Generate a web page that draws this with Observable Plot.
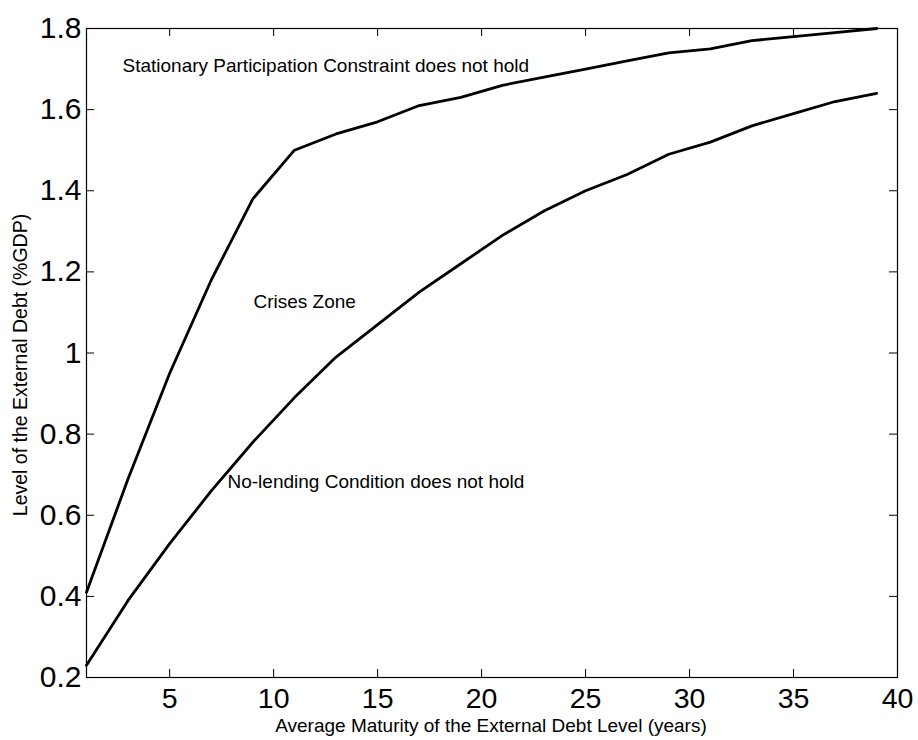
<!DOCTYPE html>
<html><head><meta charset="utf-8">
<script src="https://cdn.jsdelivr.net/npm/d3@7"></script>
<script src="https://cdn.jsdelivr.net/npm/@observablehq/plot@0.6"></script>
<style>body{margin:0;background:#fff;} svg{font-family:"Liberation Sans",Arial,sans-serif;}</style>
</head><body><div id="chart"></div>
<script>
const maturity = [1,3,5,7,9,11,13,15,17,19,21,23,25,27,29,31,33,35,37,39];
const participation = [0.41,0.69,0.95,1.18,1.38,1.50,1.54,1.57,1.61,1.63,1.66,1.68,1.70,1.72,1.74,1.75,1.77,1.78,1.79,1.80];
const noLending = [0.23,0.39,0.53,0.66,0.78,0.89,0.99,1.07,1.15,1.22,1.29,1.35,1.40,1.44,1.49,1.52,1.56,1.59,1.62,1.64];
const xTicks = [5,10,15,20,25,30,35,40];
const yTicks = [0.2,0.4,0.6,0.8,1,1.2,1.4,1.6,1.8];
const notes = [
  {x: 2.73, y: 1.709, text: "Stationary Participation Constraint does not hold"},
  {x: 9.03, y: 1.127, text: "Crises Zone"},
  {x: 7.78, y: 0.683, text: "No-lending Condition does not hold"}
];
const xLabel = "Average Maturity of the External Debt Level (years)";
const yLabel = "Level of the External Debt (%GDP)";

const upper = maturity.map((m,i)=>({x:m,y:participation[i]}));
const lower = maturity.map((m,i)=>({x:m,y:noLending[i]}));
const T = 8, H = 649, W = 811;

const chart = Plot.plot({
  width: 918, height: 740,
  marginLeft: 86, marginRight: 21, marginTop: 28, marginBottom: 63,
  style: {fontFamily: '"Liberation Sans", Arial, sans-serif', background: "#fff", color: "#000"},
  x: {domain: [1, 40], label: null},
  y: {domain: [0.2, 1.8], label: null},
  marks: [
    Plot.tickX(xTicks, {x: d=>d, stroke: "#000", strokeWidth: 1, insetTop: H - T}),
    Plot.tickX(xTicks, {x: d=>d, stroke: "#000", strokeWidth: 1, insetBottom: H - T}),
    Plot.tickY(yTicks, {y: d=>d, stroke: "#000", strokeWidth: 1, insetRight: W - T}),
    Plot.tickY(yTicks, {y: d=>d, stroke: "#000", strokeWidth: 1, insetLeft: W - T}),
    Plot.axisX(xTicks, {tickSize: 0, tickPadding: 10, fontSize: 28.5, label: null, tickFormat: d=>String(d)}),
    Plot.axisY(yTicks, {tickSize: 0, tickPadding: 5, fontSize: 30, label: null, tickFormat: d=>String(d)}),
    Plot.line(upper, {x: "x", y: "y", stroke: "#000", strokeWidth: 2.8}),
    Plot.line(lower, {x: "x", y: "y", stroke: "#000", strokeWidth: 2.8}),
    Plot.text(notes, {x: "x", y: "y", text: "text", textAnchor: "start", fontSize: 19, fill: "#000"}),
    Plot.frame({stroke: "#000", strokeWidth: 1.2})
  ]
});
const svg = d3.select(chart);
svg.append("text").attr("x", 491).attr("y", 732).attr("text-anchor","middle")
  .attr("font-size", 19).attr("fill","#000").text(xLabel);
svg.append("text").attr("transform","translate(27,365) rotate(-90)").attr("text-anchor","middle")
  .attr("font-size", 19.5).attr("fill","#000").text(yLabel);
document.getElementById("chart").appendChild(chart);
</script></body></html>
